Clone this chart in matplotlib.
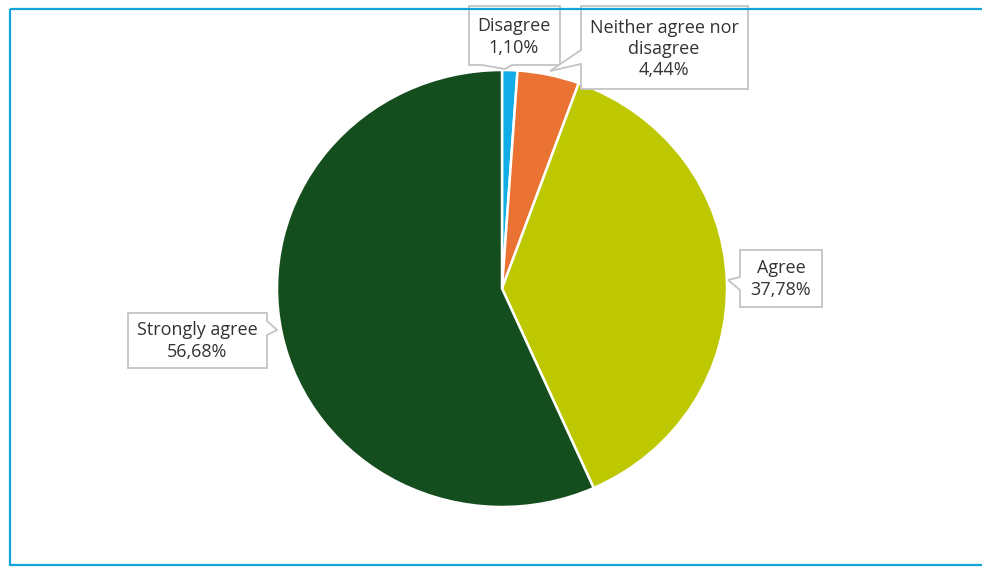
import matplotlib.pyplot as plt
from matplotlib.patches import Polygon, Rectangle

# Survey answer shares (%)
labels = ["Disagree", "Neither agree nor\ndisagree", "Agree", "Strongly agree"]
shares = [1.10, 4.44, 37.78, 56.68]
colors = ["#12ADE6", "#EA7333", "#BDC800", "#154E1E"]

W, H = 982, 567
fig = plt.figure(figsize=(W / 100, H / 100), dpi=100)

# pie axes: Excel draws it slightly wider than tall
cx, cy = 502, 288.5
rx, ry = 225, 218.5
ax = fig.add_axes([0, 0, 1, 1])
ax.pie(shares, colors=colors, startangle=90, counterclock=False, radius=1,
       wedgeprops=dict(edgecolor="white", linewidth=1.8))
ax.set_aspect("auto")
ax.set_xlim(-cx / rx, (W - cx) / rx)
ax.set_ylim(-(H - cy) / ry, cy / ry)
ax.axis("off")

# overlay in pixel coordinates for the callouts and frame
ov = fig.add_axes([0, 0, 1, 1], zorder=5)
ov.set_xlim(0, W)
ov.set_ylim(H, 0)
ov.axis("off")
ov.patch.set_alpha(0)

# box (x0, y0, x1, y1), pointer side, notch range, tip, text centre
callouts = [
    ((469, 6, 560, 65), "bottom", (482, 512), (505, 69), (514, 37)),
    ((581, 6, 748, 89), "left", (50, 64), (550, 71), (664, 49)),
    ((740, 250, 822, 307), "left", (277, 290), (728, 280), (781, 279)),
    ((128, 313, 267, 368), "right", (321, 335), (277, 330), (197, 341)),
]


def callout_poly(box, side, notch, tip):
    x0, y0, x1, y1 = box
    a, b = notch
    if side == "bottom":
        return [(x0, y0), (x1, y0), (x1, y1), (b, y1), tip, (a, y1), (x0, y1)]
    if side == "left":
        return [(x0, y0), (x1, y0), (x1, y1), (x0, y1), (x0, b), tip, (x0, a)]
    return [(x0, y0), (x1, y0), (x1, a), tip, (x1, b), (x1, y1), (x0, y1)]


for lab, val, (box, side, notch, tip, tc) in zip(labels, shares, callouts):
    ov.add_patch(Polygon(callout_poly(box, side, notch, tip), closed=True,
                         facecolor="white", edgecolor="#C4C4C4", linewidth=1.3,
                         joinstyle="miter"))
    txt = f"{lab}\n{val:.2f}%".replace(".", ",")
    ov.text(tc[0], tc[1], txt, ha="center", va="center", fontsize=13,
            family="Open Sans", color="#333333", linespacing=1.22)

# blue frame, cut off on the right like the screenshot
ov.add_patch(Rectangle((10, 9), W + 20, 556, fill=False,
                       edgecolor="#12A3DB", linewidth=1.6, clip_on=False))

fig.savefig("out.png", dpi=100, facecolor="white")
